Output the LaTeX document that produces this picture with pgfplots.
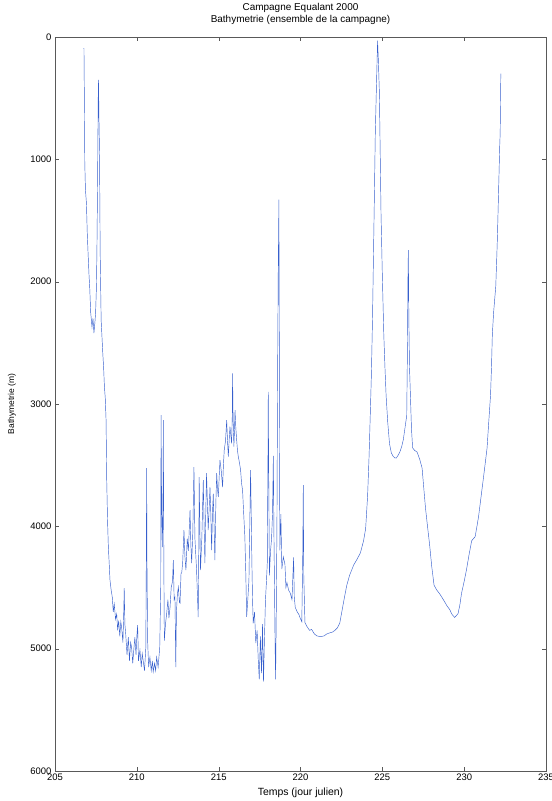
\documentclass[border=0pt]{standalone}
\usepackage{fontspec}
\setmainfont{Liberation Sans}
\usepackage{pgfplots}
\pgfplotsset{compat=1.18}
\definecolor{trace}{RGB}{55,95,205}
\begin{document}
\begin{tikzpicture}
\begin{axis}[
    scale only axis,
    width=491bp, height=734bp,
    xmin=205, xmax=235, ymin=0, ymax=6000,
    y dir=reverse,
    xtick={205,210,...,235},
    ytick={0,1000,...,6000},
    tick align=inside, tick pos=both,
    major tick length=4bp,
    axis line style={black!65, line width=0.5pt},
    tick style={black!65},
    /pgf/number format/assume math mode=true,
    /pgf/number format/set thousands separator={},
    ticklabel style={font=\fontsize{9.5}{10}\selectfont},
    xticklabel style={yshift=1bp},
    title={Campagne Equalant 2000\\Bathymetrie (ensemble de la campagne)},
    title style={align=center, font=\fontsize{10}{12}\selectfont,
        at={(axis description cs:0.5,1)}, anchor=center, yshift=17bp},
    xlabel={Temps (jour julien)},
    ylabel={Bathymetrie (m)},
    xlabel style={font=\fontsize{10.5}{11}\selectfont,
        at={(axis description cs:0.5,0)}, anchor=center, yshift=-22bp},
    ylabel style={font=\fontsize{8.5}{9}\selectfont,
        at={(axis description cs:0,0.5)}, anchor=center, yshift=43bp},
]
\addplot[trace, line width=0.45pt] coordinates {
(206.77,90) (206.80,600) (206.82,1030) (206.86,1250) (206.92,1357)
(206.97,1600) (207.02,1766) (207.08,1950) (207.12,2044) (207.18,2250)
(207.26,2371) (207.32,2300) (207.38,2420) (207.44,2330) (207.48,2256)
(207.53,2050) (207.56,1766) (207.60,1200) (207.64,500) (207.66,350)
(207.69,700) (207.72,950) (207.76,1766) (207.82,2317) (207.87,2450)
(207.92,2587) (207.97,2700) (208.02,2860) (208.07,2950) (208.12,3131)
(208.16,3622) (208.21,3950) (208.26,4170) (208.31,4300) (208.36,4440)
(208.43,4520) (208.50,4579) (208.56,4700) (208.62,4634) (208.70,4760)
(208.77,4716) (208.83,4850) (208.89,4770) (208.96,4900) (209.02,4780)
(209.07,4824) (209.15,4950) (209.20,4700) (209.23,4505) (209.27,4800)
(209.32,4879) (209.40,5050) (209.48,4906) (209.55,5100) (209.62,4950)
(209.68,4988) (209.75,5120) (209.82,5000) (209.88,4906) (209.95,5050)
(210.00,4900) (210.05,4807) (210.10,5100) (210.19,5012) (210.27,5150)
(210.33,5040) (210.39,5100) (210.47,5180) (210.55,4988) (210.58,4200)
(210.60,3524) (210.62,4300) (210.66,4934) (210.72,5150) (210.80,5070)
(210.88,5180) (210.95,5100) (211.00,5190) (211.08,5120) (211.15,5180)
(211.21,5070) (211.30,5150) (211.40,4988) (211.46,4500) (211.48,3090)
(211.52,3900) (211.56,4170) (211.60,3700) (211.62,3131) (211.65,4300)
(211.68,4934) (211.75,4800) (211.82,4716) (211.90,4600) (211.96,4750)
(212.03,4661) (212.10,4500) (212.18,4450) (212.23,4276) (212.28,4600)
(212.33,4579) (212.38,5150) (212.42,4700) (212.48,4550) (212.54,4497)
(212.60,4620) (212.64,4628) (212.70,4382) (212.74,4382) (212.80,4300)
(212.88,4031) (212.94,4250) (213.00,4358) (213.08,4100) (213.15,4200)
(213.25,3867) (213.30,4150) (213.35,4300) (213.42,4050) (213.49,3516)
(213.55,4100) (213.65,4358) (213.75,4742) (213.79,4100) (213.81,3597)
(213.85,4000) (213.89,4358) (213.97,4100) (214.06,3622) (214.11,4000)
(214.16,4300) (214.21,3900) (214.26,3565) (214.31,3800) (214.36,4031)
(214.42,3850) (214.47,3679) (214.52,3900) (214.57,4194) (214.62,3900)
(214.67,3733) (214.72,4000) (214.77,4276) (214.83,3800) (214.88,3565)
(214.93,3700) (214.98,3760) (215.03,3600) (215.08,3458) (215.16,3550)
(215.24,3679) (215.29,3500) (215.34,3377) (215.42,3300) (215.49,3131)
(215.54,3300) (215.59,3431) (215.64,3300) (215.69,3186) (215.74,3250)
(215.79,3322) (215.83,3100) (215.85,2750) (215.88,3100) (215.93,3349)
(215.97,3200) (216.00,3050) (216.05,3200) (216.10,3295) (216.15,3380)
(216.20,3431) (216.27,3480) (216.34,3540) (216.40,3650) (216.46,3703)
(216.53,3900) (216.60,4085) (216.66,4400) (216.71,4740) (216.78,4600)
(216.85,4440) (216.90,4000) (216.95,3540) (216.99,3900) (217.03,4300)
(217.07,4600) (217.11,4793) (217.19,4700) (217.27,4955) (217.35,4850)
(217.42,5094) (217.48,5250) (217.55,4900) (217.62,5200) (217.68,4800)
(217.74,5270) (217.80,4900) (217.86,4600) (217.92,4450) (217.97,4300)
(218.01,3500) (218.03,2900) (218.06,3600) (218.10,4400) (218.17,4200)
(218.23,4104) (218.29,3900) (218.34,3425) (218.38,4100) (218.42,4600)
(218.45,5000) (218.48,5250) (218.52,4700) (218.56,4000) (218.60,2780)
(218.64,1900) (218.68,1330) (218.70,2200) (218.72,3500) (218.74,4196)
(218.80,3900) (218.86,4350) (218.95,4250) (219.05,4310) (219.11,4500)
(219.17,4458) (219.27,4520) (219.38,4548) (219.48,4600) (219.55,4350)
(219.58,4254) (219.62,4580) (219.68,4663) (219.80,4700) (219.90,4720)
(219.99,4753) (220.08,4780) (220.14,4200) (220.17,3663) (220.20,4400)
(220.27,4785) (220.40,4820) (220.55,4850) (220.68,4843) (220.85,4880)
(221.00,4895) (221.15,4900) (221.29,4900) (221.45,4895) (221.60,4880)
(221.80,4870) (221.95,4865) (222.10,4850) (222.25,4830) (222.40,4790)
(222.55,4680) (222.70,4570) (222.83,4481) (223.00,4400) (223.25,4316)
(223.45,4270) (223.66,4217) (223.85,4120) (223.98,4019) (224.10,3750)
(224.19,3425) (224.26,3100) (224.33,2765) (224.40,2300) (224.46,1775)
(224.52,1250) (224.57,785) (224.64,400) (224.71,30) (224.76,200)
(224.82,455) (224.87,950) (224.92,1445) (225.00,1950) (225.09,2435)
(225.16,2700) (225.23,2930) (225.33,3150) (225.44,3326) (225.55,3400)
(225.65,3425) (225.75,3440) (225.85,3442) (225.96,3420) (226.07,3392)
(226.18,3350) (226.28,3293) (226.38,3200) (226.49,3095) (226.53,2600)
(226.57,1900) (226.59,1742) (226.62,2300) (226.66,2700) (226.70,2864)
(226.78,3200) (226.85,3359) (226.98,3380) (227.12,3392) (227.28,3450)
(227.43,3524) (227.54,3700) (227.64,3854) (227.76,4000) (227.89,4151)
(228.02,4330) (228.16,4481) (228.32,4520) (228.48,4547) (228.64,4580)
(228.79,4613) (228.95,4650) (229.11,4679) (229.26,4720) (229.42,4745)
(229.52,4730) (229.63,4712) (229.74,4640) (229.84,4547) (230.00,4450)
(230.15,4349) (230.30,4230) (230.46,4118) (230.57,4100) (230.67,4085)
(230.78,4000) (230.88,3920) (231.04,3750) (231.19,3590) (231.30,3470)
(231.40,3359) (231.50,3150) (231.61,2930) (231.67,2700) (231.72,2435)
(231.80,2250) (231.93,2039) (231.98,1850) (232.03,1643) (232.08,1380)
(232.13,1115) (232.17,900) (232.20,785) (232.24,300)
};
\coordinate (ll) at (rel axis cs:0,0);
\coordinate (ur) at (rel axis cs:1,1);
\end{axis}
\pgfresetboundingbox
\path[use as bounding box] ([xshift=-55bp,yshift=-30bp]ll) rectangle ([xshift=6bp,yshift=37bp]ur);
\end{tikzpicture}
\end{document}
